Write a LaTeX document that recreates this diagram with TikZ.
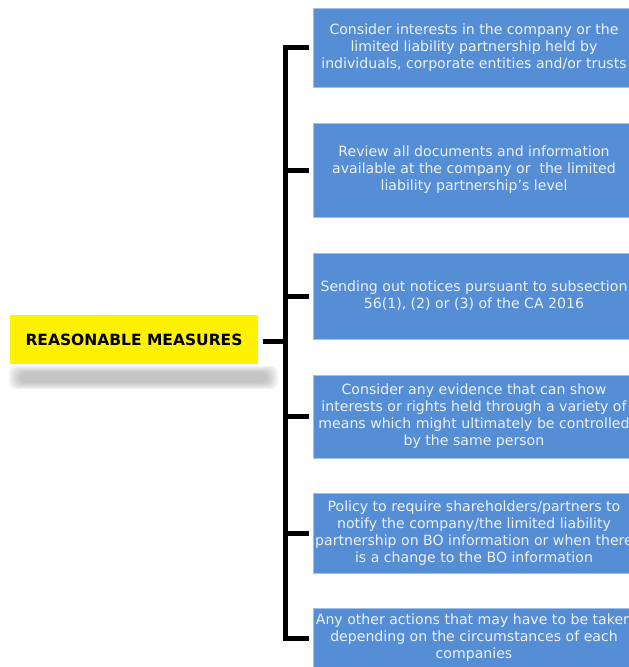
\documentclass[tikz,border=0pt]{standalone}
\usepackage{fontspec}
\setmainfont{DejaVu Sans}
\definecolor{boxblue}{RGB}{85,142,213}
\definecolor{boxedge}{RGB}{160,190,230}
\definecolor{boxtext}{RGB}{236,241,249}
\definecolor{shadowgray}{RGB}{150,150,150}
\tikzset{
  bluebox/.style={draw=boxedge, line width=0.6pt, fill=boxblue, text=boxtext,
    minimum width=322pt, inner sep=0pt, align=center,
    font=\fontsize{14.1}{17}\selectfont},
  mainbox/.style={fill=yellow, minimum width=248pt, minimum height=49pt, inner sep=0pt,
    font=\fontsize{15.5}{18}\selectfont\bfseries},
  conn/.style={line width=5pt, black},
}
\begin{document}
\begin{tikzpicture}[x=1pt,y=-1pt]
\useasboundingbox (0,0) rectangle (629,667);
\clip (0,0) rectangle (629,667);
\fill[white] (0,0) rectangle (629,667);
% shadow of main box
\foreach \i in {0,...,6}{
  \fill[shadowgray, opacity=0.1, rounded corners=7pt]
    (9+\i*1.8, 366+\i*1.0) rectangle (278-\i*1.8, 389-\i*1.0);
}
\node[mainbox] (main) at (134,339.5) {REASONABLE MEASURES};
\node[bluebox, minimum height=79pt] (b1) at (474,47.5) {Consider interests in the company or the\\limited liability partnership held by\\individuals, corporate entities and/or trusts};
\node[bluebox, minimum height=94pt] (b2) at (474,170) {Review all documents and information\\available at the company or\ \ the limited\\liability partnership's level};
\node[bluebox, minimum height=86pt] (b3) at (474,296) {Sending out notices pursuant to subsection\\56(1), (2) or (3) of the CA 2016};
\node[bluebox, minimum height=83pt] (b4) at (474,416.5) {Consider any evidence that can show\\interests or rights held through a variety of\\means which might ultimately be controlled\\by the same person};
\node[bluebox, minimum height=80pt] (b5) at (474,533) {Policy to require shareholders/partners to\\notify the company/the limited liability\\partnership on BO information or when there\\is a change to the BO information};
\node[bluebox, minimum height=60pt] (b6) at (474,638) {Any other actions that may have to be taken\\depending on the circumstances of each\\companies};
\coordinate (s1) at (285.5,47.5);
\coordinate (s2) at (285.5,170);
\coordinate (s3) at (285.5,296);
\coordinate (sm) at (285.5,341);
\coordinate (s4) at (285.5,416.5);
\coordinate (s5) at (285.5,533);
\coordinate (s6) at (285.5,638);
\draw[conn, line join=miter, shorten <=4pt, shorten >=4pt] (b1.west) -- (s1) -- (s6) -- (b6.west);
\draw[conn, shorten >=4pt] (s2) -- (b2.west);
\draw[conn, shorten >=4pt] (s3) -- (b3.west);
\draw[conn, shorten >=4pt] (s4) -- (b4.west);
\draw[conn, shorten >=4pt] (s5) -- (b5.west);
\draw[conn, shorten <=5pt] (main.east |- sm) -- (sm);
\end{tikzpicture}
\end{document}
